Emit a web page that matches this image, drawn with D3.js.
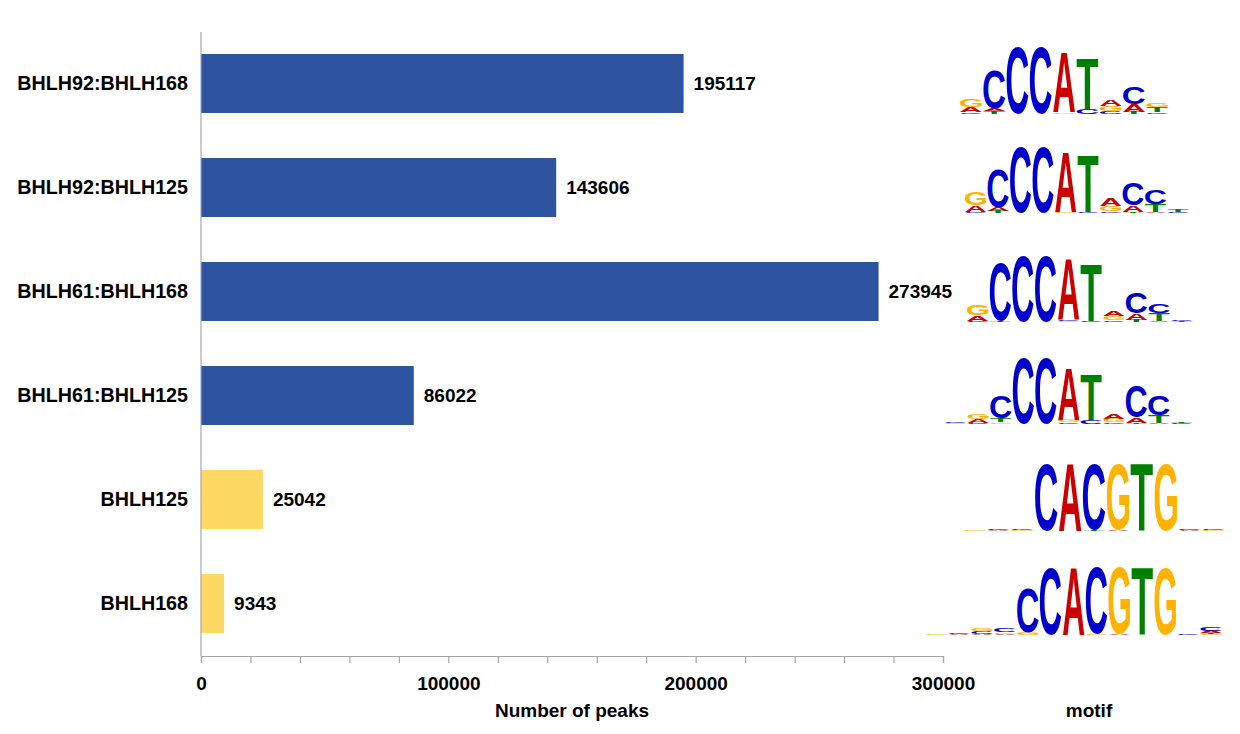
<!DOCTYPE html>
<html><head><meta charset="utf-8">
<script src="https://cdn.jsdelivr.net/npm/d3@7"></script>
<style>body{margin:0;background:#fff;}</style>
</head><body>
<svg id="chart" width="1240" height="734"></svg>
<script>
// ---------------- data ----------------
const categories = ["BHLH92:BHLH168","BHLH92:BHLH125","BHLH61:BHLH168","BHLH61:BHLH125","BHLH125","BHLH168"];
const peaks = [195117,143606,273945,86022,25042,9343];
const groups = ["heterodimer","heterodimer","heterodimer","heterodimer","monomer","monomer"];
const xTickValues = [0,20000,40000,60000,80000,100000,120000,140000,160000,180000,200000,220000,240000,260000,280000,300000];
const xTickLabels = [0,100000,200000,300000];
const xTitle = "Number of peaks";
const motifTitle = "motif";

// sequence logos: each column = list of [letter, information (bits)]
const motifBHLH92_168 = [
  [["C",0.05],["A",0.14],["G",0.22]],
  [["T",0.07],["A",0.08],["C",1.05]],
  [["C",1.86]],
  [["C",1.86]],
  [["G",0.05],["A",1.67]],
  [["C",0.13],["T",1.39]],
  [["C",0.08],["G",0.13],["A",0.17]],
  [["T",0.05],["A",0.22],["C",0.47]],
  [["C",0.05],["T",0.13],["G",0.1]]
];
const motifBHLH92_125 = [
  [["C",0.04],["A",0.17],["G",0.36]],
  [["T",0.05],["A",0.1],["C",1.06]],
  [["C",1.83]],
  [["C",1.83]],
  [["G",0.04],["A",1.65]],
  [["C",0.04],["T",1.6]],
  [["C",0.05],["G",0.14],["A",0.22]],
  [["T",0.03],["A",0.17],["C",0.63]],
  [["A",0.03],["T",0.22],["C",0.4]],
  [["C",0.04],["T",0.05]]
];
const motifBHLH61_168 = [
  [["C",0.04],["A",0.14],["G",0.28]],
  [["T",0.04],["C",1.6]],
  [["C",1.83]],
  [["C",1.83]],
  [["G",0.04],["C",0.03],["A",1.7]],
  [["C",0.04],["T",1.58]],
  [["C",0.05],["G",0.12],["A",0.15]],
  [["T",0.05],["A",0.19],["C",0.6]],
  [["A",0.04],["T",0.22],["C",0.24]],
  [["T",0.03],["C",0.03]]
];
const motifBHLH61_125 = [
  [["G",0.02],["C",0.02]],
  [["C",0.03],["A",0.1],["G",0.14]],
  [["G",0.05],["T",0.1],["C",0.6]],
  [["C",1.83]],
  [["C",1.83]],
  [["C",0.05],["G",0.07],["A",1.45]],
  [["C",0.1],["T",1.25]],
  [["C",0.05],["G",0.1],["A",0.14]],
  [["T",0.04],["A",0.14],["C",0.88]],
  [["A",0.03],["T",0.22],["C",0.55]],
  [["C",0.03],["T",0.03]]
];
const motifBHLH125 = [
  [["A",0.01],["G",0.02]],
  [["A",0.02],["C",0.03]],
  [["G",0.02],["C",0.03]],
  [["C",1.86]],
  [["A",1.86]],
  [["T",0.03],["C",1.84]],
  [["A",0.03],["G",1.84]],
  [["T",1.89]],
  [["G",1.86]],
  [["A",0.02],["C",0.03]],
  [["G",0.02],["C",0.02]]
];
const motifBHLH168 = [
  [["A",0.01],["G",0.02]],
  [["A",0.02],["C",0.03]],
  [["A",0.04],["C",0.06],["G",0.08]],
  [["A",0.03],["G",0.05],["C",0.1]],
  [["G",0.06],["C",1.25]],
  [["C",1.86]],
  [["A",1.86]],
  [["G",0.03],["C",1.86]],
  [["A",0.03],["G",1.86]],
  [["T",1.86]],
  [["G",1.86]],
  [["C",0.02]],
  [["G",0.03],["T",0.03],["A",0.05],["C",0.1]]
];
const motifs = [motifBHLH92_168, motifBHLH92_125, motifBHLH61_168, motifBHLH61_125, motifBHLH125, motifBHLH168];

// ---------------- layout / style ----------------
const FONT = "'Liberation Sans', Arial, sans-serif";
const barColor = {heterodimer:"#2E54A1", monomer:"#FDD862"};
const letterColor = {A:"#CC0000", C:"#0000CC", G:"#FFB300", T:"#008000"};
// logo placement (x start, column width, baseline offset from band centre)
const motifLayout = [
  {x0:960,   w:23.3, dy:30.5},
  {x0:965,   w:22.5, dy:25.5},
  {x0:967,   w:22.7, dy:30.5},
  {x0:945,   w:22.6, dy:28.5},
  {x0:963.3, w:23.9, dy:31.5},
  {x0:925.4, w:22.9, dy:31.5}
];

const svg = d3.select("#chart");

const x = d3.scaleLinear().domain([0,300000]).range([201,943]);
const y = d3.scaleBand().domain(categories).range([31.5,655.5]).paddingInner(0.433).paddingOuter(0.2165);
const bits = d3.scaleLinear().domain([0,2]).range([0,72]);

// bars
svg.append("g").selectAll("rect").data(categories).join("rect")
  .attr("x", x(0)).attr("y", d => y(d))
  .attr("width", (d,i) => x(peaks[i]) - x(0))
  .attr("height", y.bandwidth())
  .attr("fill", (d,i) => barColor[groups[i]]);

// value labels
svg.append("g").selectAll("text").data(categories).join("text")
  .attr("x", (d,i) => x(peaks[i]) + 10)
  .attr("y", d => y(d) + y.bandwidth()/2)
  .attr("dy", "0.35em")
  .attr("font-family", FONT).attr("font-weight","bold").attr("font-size", 19)
  .attr("fill","#000")
  .text((d,i) => peaks[i]);

// x axis
const xAxis = d3.axisBottom(x).tickValues(xTickValues).tickSize(7).tickPadding(14)
  .tickFormat(v => xTickLabels.includes(v) ? String(v) : "");
const gx = svg.append("g").attr("transform", "translate(0,656)").call(xAxis);
gx.select(".domain").attr("stroke","#A6A6A6").attr("stroke-width",1.2);
gx.selectAll(".tick line").attr("stroke","#A6A6A6").attr("stroke-width",1.2);
gx.selectAll(".tick text").attr("font-family", FONT).attr("font-weight","bold").attr("font-size",19).attr("fill","#000");

// y axis
const yAxis = d3.axisLeft(y).tickSize(0).tickPadding(13);
const gy = svg.append("g").attr("transform", "translate(201,0)").call(yAxis);
gy.select(".domain").attr("stroke","#A6A6A6").attr("stroke-width",1.2).attr("d","M0,32V656");
gy.selectAll(".tick text").attr("font-family", FONT).attr("font-weight","bold").attr("font-size",19.7).attr("fill","#000");

// titles
svg.append("text").attr("x", 572).attr("y", 717).attr("text-anchor","middle")
  .attr("font-family", FONT).attr("font-weight","bold").attr("font-size",19).text(xTitle);
svg.append("text").attr("x", 1089).attr("y", 717).attr("text-anchor","middle")
  .attr("font-family", FONT).attr("font-weight","bold").attr("font-size",19).text(motifTitle);

// sequence logos
const canvas = document.createElement("canvas");
const ctx = canvas.getContext("2d");
ctx.font = "bold 100px 'Liberation Sans', Arial, sans-serif";
const metrics = {};
["A","C","G","T"].forEach(L => {
  const m = ctx.measureText(L);
  metrics[L] = {left:m.actualBoundingBoxLeft, right:m.actualBoundingBoxRight,
                asc:m.actualBoundingBoxAscent, desc:m.actualBoundingBoxDescent};
});

const gLogos = svg.append("g");
motifs.forEach((motif, mi) => {
  const lay = motifLayout[mi];
  const base = y(categories[mi]) + y.bandwidth()/2 + lay.dy;
  const g = gLogos.append("g");
  motif.forEach((col, ci) => {
    let yb = base;
    const cx = lay.x0 + ci*lay.w;
    const lw = lay.w*0.94;
    col.forEach(([L, b]) => {
      const h = bits(b);
      if (h <= 0) return;
      const m = metrics[L];
      const gw = m.left + m.right, gh = m.asc + m.desc;
      const sx = lw/gw, sy = h/gh;
      g.append("text")
        .attr("transform", `translate(${cx + m.left*sx},${yb - m.desc*sy}) scale(${sx},${sy})`)
        .attr("font-family", FONT).attr("font-weight","bold").attr("font-size",100)
        .attr("fill", letterColor[L])
        .text(L);
      yb -= h;
    });
  });
});
</script>
</body></html>
